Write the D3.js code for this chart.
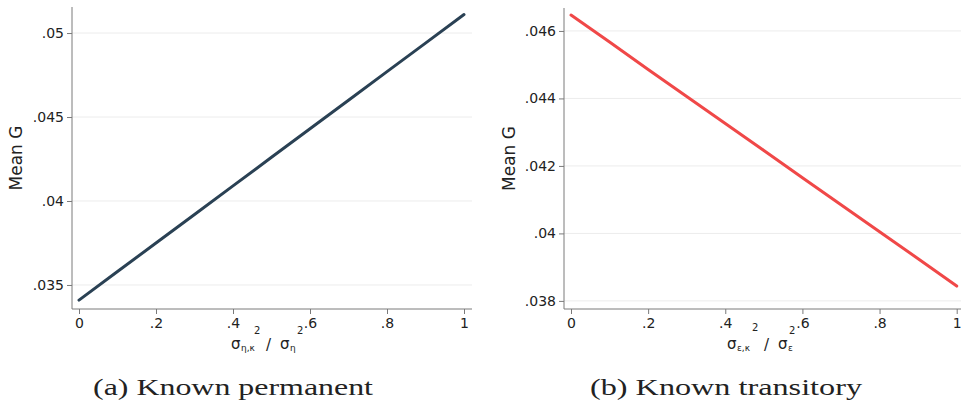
<!DOCTYPE html>
<html>
<head>
<meta charset="utf-8">
<script src="https://cdn.jsdelivr.net/npm/d3@7"></script>
<style>
  html, body { margin: 0; padding: 0; background: #fff; }
  svg { display: block; }
  text { fill: #222; }
</style>
</head>
<body>
<svg id="chart" width="961" height="412"></svg>
<script>
// ---- data ----
const shareX = [0, 0.1, 0.2, 0.3, 0.4, 0.5, 0.6, 0.7, 0.8, 0.9, 1];
const meanGPermanent = [0.0341, 0.0358, 0.0375, 0.0392, 0.0409, 0.0426, 0.0443, 0.0460, 0.0477, 0.0494, 0.0511];
const meanGTransitory = [0.04647, 0.04567, 0.04486, 0.04406, 0.04326, 0.04246, 0.04165, 0.04085, 0.04005, 0.03925, 0.03844];
const xTicks = [0, 0.2, 0.4, 0.6, 0.8, 1];
const xTickLabels = ["0", ".2", ".4", ".6", ".8", "1"];
const yTicksPermanent = [0.035, 0.04, 0.045, 0.05];
const yTickLabelsPermanent = [".035", ".04", ".045", ".05"];
const yTicksTransitory = [0.038, 0.04, 0.042, 0.044, 0.046];
const yTickLabelsTransitory = [".038", ".04", ".042", ".044", ".046"];
const captions = ["(a) Known permanent", "(b) Known transitory"];
const yTitle = "Mean G";

const svg = d3.select("#chart");

function panel(cfg) {
  const g = svg.append("g");
  const x = d3.scaleLinear().domain([0, 1]).range([cfg.x0, cfg.x1]);
  const y = d3.scaleLinear().domain(cfg.yDomain).range([cfg.yBottom, cfg.yTop]);

  // gridlines
  g.selectAll("line.grid").data(cfg.yTicks).join("line")
    .attr("x1", cfg.axisX).attr("x2", cfg.gridEnd)
    .attr("y1", d => y(d)).attr("y2", d => y(d))
    .attr("stroke", "#ececec").attr("stroke-width", 1);

  // y axis
  const yAxis = d3.axisLeft(y).tickValues(cfg.yTicks)
    .tickFormat((d, i) => cfg.yLabels[i]).tickSize(5).tickPadding(3);
  const ya = g.append("g").attr("transform", `translate(${cfg.axisX},0)`).call(yAxis);
  ya.select(".domain").attr("d", `M0,${cfg.yBottom}V${cfg.yTop}`);
  ya.selectAll("path, line").attr("stroke", "#7a7a7a");
  ya.selectAll("text").attr("font-family", "DejaVu Sans").attr("font-size", 14).attr("fill", "#333");

  // x axis
  const xAxis = d3.axisBottom(x).tickValues(xTicks)
    .tickFormat((d, i) => xTickLabels[i]).tickSize(5).tickPadding(4);
  const xa = g.append("g").attr("transform", `translate(0,${cfg.yBottom})`).call(xAxis);
  xa.select(".domain").attr("d", `M${cfg.axisX},0H${cfg.gridEnd}`);
  xa.selectAll("path, line").attr("stroke", "#7a7a7a");
  xa.selectAll("text").attr("font-family", "DejaVu Sans").attr("font-size", 14).attr("fill", "#333");

  // line
  const lineGen = d3.line().x((d, i) => x(shareX[i])).y(d => y(d));
  g.append("path").datum(cfg.values)
    .attr("d", lineGen).attr("fill", "none")
    .attr("stroke", cfg.color).attr("stroke-width", 3).attr("stroke-linecap", "round");

  // y title
  g.append("text")
    .attr("transform", `translate(${cfg.titleX},${(cfg.yTop + cfg.yBottom) / 2}) rotate(-90)`)
    .attr("text-anchor", "middle").attr("font-family", "DejaVu Sans").attr("font-size", 17)
    .attr("fill", "#333").text(yTitle);

  // x title pieces
  const xt = g.append("g").attr("font-family", "DejaVu Sans").attr("fill", "#333");
  const L = cfg.xl;
  xt.append("text").attr("x", L.s1).attr("y", 349).attr("font-size", 15).text("σ");
  xt.append("text").attr("x", L.s1 + 10).attr("y", 351).attr("font-size", 9).text(cfg.sub1);
  xt.append("text").attr("x", L.sup1).attr("y", L.sup1y).attr("font-size", 10).text("2");
  xt.append("text").attr("x", L.slash).attr("y", 350).attr("font-size", 15).text("/");
  xt.append("text").attr("x", L.s2).attr("y", 349).attr("font-size", 15).text("σ");
  xt.append("text").attr("x", L.s2 + 10).attr("y", 351).attr("font-size", 9).text(cfg.sub2);
  xt.append("text").attr("x", L.sup2).attr("y", L.sup2y).attr("font-size", 10).text("2");

  // caption
  svg.append("text").attr("x", cfg.capX).attr("y", 395)
    .attr("font-family", "Liberation Serif").attr("font-size", 24).attr("fill", "#1a1a1a")
    .attr("textLength", cfg.capW).attr("lengthAdjust", "spacingAndGlyphs")
    .text(cfg.caption);
}

panel({
  x0: 79, x1: 464, axisX: 72, gridEnd: 472,
  yDomain: [0.03357, 0.05155], yBottom: 309, yTop: 7,
  yTicks: yTicksPermanent, yLabels: yTickLabelsPermanent,
  values: meanGPermanent, color: "#2a4154",
  titleX: 22, sub1: "η,κ", sub2: "η",
  xl: { s1: 231, sup1: 254, sup1y: 334, slash: 266, s2: 280, sup2: 297, sup2y: 334 },
  caption: captions[0], capX: 93, capW: 280
});

panel({
  x0: 571, x1: 956.7, axisX: 564, gridEnd: 961,
  yDomain: [0.03776, 0.04668], yBottom: 309, yTop: 8,
  yTicks: yTicksTransitory, yLabels: yTickLabelsTransitory,
  values: meanGTransitory, color: "#f04848",
  titleX: 515, sub1: "ε,κ", sub2: "ε",
  xl: { s1: 727, sup1: 752, sup1y: 331, slash: 764, s2: 778, sup2: 789, sup2y: 334 },
  caption: captions[1], capX: 590, capW: 272
});
</script>
</body>
</html>
